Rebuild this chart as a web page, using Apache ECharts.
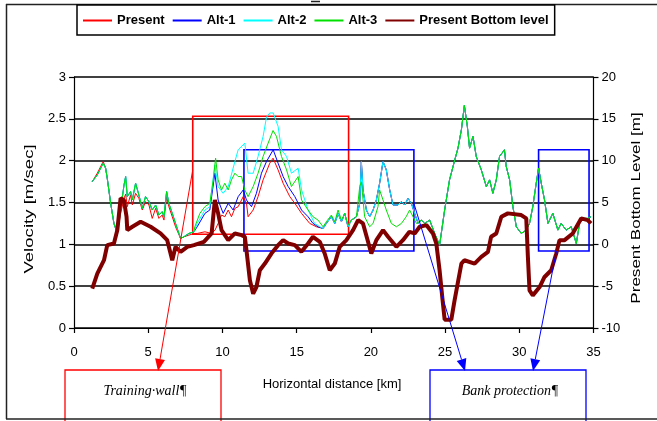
<!DOCTYPE html>
<html>
<head>
<meta charset="utf-8">
<script src="https://cdn.jsdelivr.net/npm/echarts@6/dist/echarts.min.js"></script>
<style>
html,body{margin:0;padding:0;background:#fff;}
#chart{width:657px;height:421px;}
</style>
</head>
<body>
<div id="chart"></div>
<script>
// ---- Data ----
const seriesNames = ['Present', 'Alt-1', 'Alt-2', 'Alt-3', 'Present Bottom level'];
const xTicks = [0, 5, 10, 15, 20, 25, 30, 35];

// Segment A (shared upstream reach), km 1.2 - 8.1
const kmA = [1.23, 1.57, 1.97, 2.13, 2.24, 2.47, 2.69, 2.92, 3.14, 3.37, 3.48, 3.59, 3.81, 3.93, 4.15, 4.37, 4.6, 4.82, 5.05, 5.27, 5.5, 5.72, 5.94, 6.06, 6.24, 6.39, 6.62, 6.84, 7.18, 7.4, 7.74, 8.08];
const velPresentA = [1.75, 1.85, 1.99, 1.91, 1.79, 1.49, 1.25, 1.13, 1.37, 1.55, 1.60, 1.45, 1.59, 1.47, 1.61, 1.55, 1.41, 1.51, 1.47, 1.31, 1.43, 1.31, 1.35, 1.29, 1.57, 1.45, 1.33, 1.21, 1.07, 1.09, 1.11, 1.13];
const velAltA = [1.75, 1.83, 1.97, 1.91, 1.79, 1.49, 1.25, 1.13, 1.41, 1.71, 1.81, 1.57, 1.63, 1.53, 1.73, 1.59, 1.43, 1.57, 1.51, 1.41, 1.47, 1.35, 1.39, 1.33, 1.63, 1.49, 1.37, 1.25, 1.07, 1.09, 1.13, 1.15];

// Segment B (training wall reach), per scenario
const kmPresentB = [8.3, 8.82, 9.27, 9.5, 9.71, 9.94, 10.16, 10.39, 10.61, 10.84, 11.06, 11.4, 11.62, 11.73, 12.07, 12.4, 12.74, 13.19, 13.41, 13.75, 14.09, 14.54, 14.88, 15.33, 15.88, 16.33];
const velPresentB = [1.13, 1.15, 1.13, 1.17, 1.25, 1.35, 1.33, 1.41, 1.33, 1.43, 1.45, 1.57, 1.49, 1.33, 1.41, 1.57, 1.77, 1.97, 2.03, 1.89, 1.73, 1.57, 1.49, 1.37, 1.25, 1.21];
const kmAlt1B = [8.3, 8.82, 9.15, 9.49, 9.71, 10.05, 10.39, 10.72, 11.06, 11.4, 11.62, 11.96, 12.29, 12.63, 12.97, 13.42, 13.75, 14.09, 14.43, 14.88, 15.33, 15.77, 16.1, 16.44];
const velAlt1B = [1.21, 1.37, 1.41, 1.85, 1.53, 1.37, 1.49, 1.41, 1.57, 1.65, 1.53, 1.45, 1.61, 1.85, 1.99, 2.13, 1.97, 1.81, 1.69, 1.57, 1.41, 1.33, 1.25, 1.21];
const kmAlt2B = [8.3, 8.82, 9.15, 9.49, 9.71, 10.05, 10.39, 10.84, 11.06, 11.51, 11.73, 12.07, 12.4, 12.74, 12.97, 13.19, 13.42, 13.75, 13.98, 14.32, 14.65, 15.1, 15.33, 15.77, 16.21, 16.56];
const velAlt2B = [1.25, 1.41, 1.45, 1.95, 1.69, 1.61, 1.69, 1.99, 2.13, 2.21, 1.85, 1.85, 2.05, 2.29, 2.52, 2.57, 2.57, 2.41, 2.13, 2.05, 1.85, 1.91, 1.65, 1.41, 1.25, 1.21];
const kmAlt3B = [8.14, 8.48, 8.82, 9.15, 9.38, 9.54, 9.71, 9.94, 10.16, 10.39, 10.61, 10.84, 11.06, 11.29, 11.51, 11.73, 12.07, 12.4, 12.74, 13.08, 13.41, 13.64, 13.98, 14.32, 14.65, 15.1, 15.33, 15.77, 16.1, 16.44];
const velAlt3B = [1.21, 1.37, 1.45, 1.49, 1.77, 2.03, 1.77, 1.65, 1.73, 1.65, 1.77, 1.85, 1.81, 1.81, 1.65, 1.57, 1.69, 1.85, 2.05, 2.21, 2.36, 2.29, 2.05, 1.89, 1.69, 1.81, 1.53, 1.41, 1.33, 1.29];

// Segment D, km 16.8 - 23.2
const kmD = [16.78, 17.0, 17.34, 17.57, 17.79, 18.02, 18.24, 18.46, 18.69, 19.03, 19.25, 19.36, 19.47, 19.7, 19.92, 20.15, 20.37, 20.59, 20.82, 21.04, 21.27, 21.49, 21.83, 22.06, 22.28, 22.5, 22.73, 22.95, 23.18];
const velD = [1.19, 1.25, 1.33, 1.25, 1.37, 1.27, 1.37, 1.21, 1.29, 1.33, 1.49, 1.99, 1.65, 1.41, 1.33, 1.41, 1.53, 1.73, 1.99, 1.89, 1.65, 1.47, 1.47, 1.51, 1.47, 1.55, 1.49, 1.37, 1.25];
const kmAlt3D = [16.78, 17.0, 17.34, 17.57, 17.79, 18.02, 18.24, 18.46, 18.69, 19.03, 19.14, 19.25, 19.36, 19.58, 19.92, 20.15, 20.48, 20.59, 20.82, 21.04, 21.38, 21.72, 22.06, 22.38, 22.61, 22.84, 23.07];
const velAlt3D = [1.21, 1.27, 1.35, 1.27, 1.41, 1.29, 1.37, 1.23, 1.29, 1.33, 1.33, 1.69, 1.75, 1.33, 1.21, 1.25, 1.45, 1.65, 1.53, 1.41, 1.25, 1.21, 1.25, 1.33, 1.41, 1.33, 1.25];

// Segment C (shared downstream reach), km 23.4 - 34.8
const kmC = [23.4, 23.63, 23.96, 24.3, 24.63, 24.97, 25.3, 25.64, 25.87, 26.1, 26.3, 26.5, 26.65, 26.88, 27.1, 27.44, 27.78, 28.0, 28.22, 28.45, 28.67, 29.0, 29.12, 29.35, 29.57, 29.8, 30.13, 30.47, 30.69, 30.91, 31.14, 31.3, 31.48, 31.7, 31.93, 32.26, 32.6, 32.82, 33.16, 33.5, 33.84, 34.06, 34.28, 34.6, 34.83];
const velC = [1.29, 1.25, 1.29, 1.13, 0.99, 1.41, 1.77, 2.0, 2.15, 2.37, 2.66, 2.41, 2.15, 2.29, 2.05, 1.89, 1.69, 1.77, 1.61, 1.77, 2.05, 2.13, 1.93, 1.77, 1.45, 1.21, 1.13, 1.17, 1.25, 1.45, 1.73, 1.91, 1.73, 1.53, 1.25, 1.37, 1.17, 1.25, 1.17, 1.21, 1.01, 1.25, 1.31, 1.31, 1.33];

// Present bottom level [m] (right axis)
const kmBed = [1.23, 1.57, 2.02, 2.24, 2.69, 2.92, 3.14, 3.36, 3.54, 3.59, 3.93, 4.49, 5.16, 5.83, 6.28, 6.62, 6.84, 7.18, 7.63, 8.08, 8.75, 9.27, 9.49, 9.71, 9.94, 10.39, 10.84, 11.29, 11.51, 11.62, 11.85, 12.07, 12.29, 12.52, 12.86, 13.3, 13.75, 14.09, 14.43, 14.88, 15.32, 15.77, 16.1, 16.56, 16.89, 17.23, 17.57, 17.9, 18.35, 18.8, 19.14, 19.47, 20.03, 20.37, 20.82, 21.16, 21.72, 22.16, 22.6, 22.95, 23.29, 23.74, 24.18, 24.41, 24.63, 24.81, 24.97, 25.42, 25.64, 26.1, 26.3, 26.99, 27.44, 27.89, 28.1, 28.45, 28.79, 29.23, 30.13, 30.47, 30.58, 30.69, 30.91, 31.37, 31.7, 32.15, 32.49, 32.71, 33.05, 33.6, 34.17, 34.6, 34.83];
const bedLevel = [-5.3, -3.5, -1.9, -0.1, 0.1, 1.7, 5.5, 5.3, 3.3, 1.7, 2.1, 2.7, 2.1, 1.3, 0.5, -1.9, -0.3, -0.9, -0.3, -0.1, 0.3, 1.3, 5.3, 3.7, 1.7, 0.5, 1.3, 1.1, 0.9, -0.7, -4.3, -5.9, -5.1, -3.1, -2.3, -1.1, -0.1, 0.5, 0.1, -0.1, -0.9, 0.1, 0.9, 0.3, -1.1, -3.1, -2.3, -0.3, 0.5, 1.7, 2.9, 2.5, -1.1, 0.5, 1.7, 0.9, -0.3, 0.5, 1.5, 1.3, 2.1, 2.3, 1.3, 0.1, -3.1, -6.3, -9.0, -9.0, -6.7, -2.3, -1.9, -2.3, -1.5, -0.9, 0.9, 1.3, 3.3, 3.7, 3.5, 3.1, -1.5, -5.5, -6.1, -5.1, -3.9, -3.1, -1.1, 0.5, 0.5, 1.3, 3.1, 2.9, 2.5];

// Annotation boxes [kmFrom, kmTo, velLow, velHigh]
const trainingWallBox = [8.0, 18.5, 1.12, 2.53];
const bankBox1 = [11.45, 22.9, 0.92, 2.13];
const bankBox2 = [31.3, 34.7, 0.92, 2.13];
const annotationTexts = ['Training·wall¶', 'Bank protection¶'];

// ---- Build ----
function zip(xs, ys) { return xs.map((x, i) => [x, ys[i]]); }
const present = [].concat(zip(kmA, velPresentA), zip(kmPresentB, velPresentB), zip(kmD, velD), zip(kmC, velC));
const alt1 = [].concat(zip(kmA, velAltA), zip(kmAlt1B, velAlt1B), zip(kmD, velD), zip(kmC, velC));
const alt2 = [].concat(zip(kmA, velAltA), zip(kmAlt2B, velAlt2B), zip(kmD, velD), zip(kmC, velC));
const alt3 = [].concat(zip(kmA, velAltA), zip(kmAlt3B, velAlt3B), zip(kmAlt3D, velAlt3D), zip(kmC, velC));
const bed = zip(kmBed, bedLevel);

const FONT = 'Liberation Sans, Arial, sans-serif';
const chart = echarts.init(document.getElementById('chart'), null, {renderer: 'canvas'});

function boxArea(b, color) {
  return [{coord: [b[0], b[3]], itemStyle: {color: 'rgba(0,0,0,0)', borderColor: color, borderWidth: 1.6}},
          {coord: [b[1], b[2]]}];
}

function lineSeries(name, data, color, width, yIdx) {
  return {
    name, type: 'line', data, yAxisIndex: yIdx, symbol: 'none', showSymbol: false,
    lineStyle: {color, width}, itemStyle: {color}, animation: false, silent: true
  };
}

const s0 = lineSeries('Present', present, '#ff0000', 1, 0);
s0.markArea = {
  silent: true, label: {show: false},
  data: [boxArea(trainingWallBox, '#ff0000'), boxArea(bankBox1, '#0000ff'), boxArea(bankBox2, '#0000ff')]
};

const option = {
  animation: false,
  backgroundColor: '#fff',
  grid: {left: 74, right: 63.5, top: 77, bottom: 93, containLabel: false},
  legend: {
    data: seriesNames,
    left: 77, top: 5,
    padding: [9, 6, 8, 5],
    itemWidth: 29, itemHeight: 12, itemGap: 7,
    itemStyle: {opacity: 0},
    borderColor: '#000', borderWidth: 1.5, backgroundColor: '#fff',
    textStyle: {fontFamily: FONT, fontWeight: 'bold', fontSize: 13, color: '#000'},
    selectedMode: false
  },
  xAxis: {
    type: 'value', min: 0, max: 35, interval: 5,
    axisLine: {show: true, lineStyle: {color: '#000', width: 1.2}},
    axisTick: {show: true, length: 5, lineStyle: {color: '#000', width: 1.2}},
    axisLabel: {margin: 18, fontFamily: FONT, fontSize: 13, color: '#000',
                formatter: v => xTicks.includes(v) ? String(v) : ''},
    splitLine: {show: false}
  },
  yAxis: [
    {
      type: 'value', min: 0, max: 3, interval: 0.5, position: 'left',
      axisLine: {show: true, lineStyle: {color: '#000', width: 1.2}},
      axisTick: {show: true, length: 5, lineStyle: {color: '#000', width: 1.2}},
      axisLabel: {margin: 8, fontFamily: FONT, fontSize: 13, color: '#000'},
      splitLine: {show: true, lineStyle: {color: '#000', width: 1.5}}
    },
    {
      type: 'value', min: -10, max: 20, interval: 5, position: 'right',
      axisLine: {show: true, lineStyle: {color: '#000', width: 1.2}},
      axisTick: {show: true, length: 5, lineStyle: {color: '#000', width: 1.2}},
      axisLabel: {margin: 8, fontFamily: FONT, fontSize: 13, color: '#000'},
      splitLine: {show: false}
    }
  ],
  series: [
    s0,
    lineSeries('Alt-1', alt1, '#0000ff', 1, 0),
    lineSeries('Alt-2', alt2, '#00ffff', 1, 0),
    lineSeries('Alt-3', alt3, '#00e000', 1, 0),
    lineSeries('Present Bottom level', bed, '#800000', 4, 1)
  ]
};
chart.setOption(option);

// ---- Annotation graphics (arrows, captions, frame) ----
function arrow(start, tip, color) {
  const dx = tip[0] - start[0], dy = tip[1] - start[1];
  const len = Math.sqrt(dx * dx + dy * dy);
  const ux = dx / len, uy = dy / len;
  const L = 12, W = 5;
  const bx = tip[0] - ux * L, by = tip[1] - uy * L;
  const px = -uy, py = ux;
  return [
    {type: 'line', shape: {x1: start[0], y1: start[1], x2: bx, y2: by},
     style: {stroke: color, lineWidth: 1}, z: 10},
    {type: 'polygon', shape: {points: [[tip[0], tip[1]], [bx + px * W, by + py * W], [bx - px * W, by - py * W]]},
     style: {fill: color}, z: 10}
  ];
}
const toPx = p => chart.convertToPixel({gridIndex: 0}, p);
const redStart = toPx([trainingWallBox[0], 1.89]);
const blueStart1 = toPx([bankBox1[1], 1.49]);
const blueStart2 = toPx([32.5, bankBox2[2]]);

const graphics = [
  // outer frame
  {type: 'line', shape: {x1: 6, y1: 4.5, x2: 657, y2: 4.5}, style: {stroke: '#222', lineWidth: 1.5}, z: 1},
  {type: 'line', shape: {x1: 6.5, y1: 4, x2: 6.5, y2: 419}, style: {stroke: '#222', lineWidth: 1.5}, z: 1},
  {type: 'line', shape: {x1: 6, y1: 419, x2: 657, y2: 419}, style: {stroke: '#222', lineWidth: 1.5}, z: 12},
  {type: 'line', shape: {x1: 311, y1: 1.5, x2: 320, y2: 1.5}, style: {stroke: '#222', lineWidth: 1.5}, z: 1},
  // axis titles
  {type: 'text', x: 30, y: 209, rotation: Math.PI / 2, scaleX: 1.55,
   style: {text: 'Velocity [m/sec]', font: '12px ' + FONT, fill: '#000', textAlign: 'center', textVerticalAlign: 'middle'}},
  {type: 'text', x: 637, y: 208, rotation: Math.PI / 2, scaleX: 1.42,
   style: {text: 'Present Bottom Level [m]', font: '12px ' + FONT, fill: '#000', textAlign: 'center', textVerticalAlign: 'middle'}},
  {type: 'text', x: 332, y: 384,
   style: {text: 'Horizontal distance [km]', font: '13px ' + FONT, fill: '#000', textAlign: 'center', textVerticalAlign: 'middle'}},
  // caption boxes
  {type: 'rect', shape: {x: 65, y: 370, width: 156, height: 60}, style: {fill: 'none', stroke: '#ff0000', lineWidth: 1.3}, z: 11},
  {type: 'text', x: 145, y: 391,
   style: {text: annotationTexts[0], font: 'italic 14px Liberation Serif, Times New Roman, serif', fill: '#000', textAlign: 'center', textVerticalAlign: 'middle'}},
  {type: 'rect', shape: {x: 430, y: 370, width: 156, height: 60}, style: {fill: 'none', stroke: '#0000ff', lineWidth: 1.3}, z: 11},
  {type: 'text', x: 510, y: 391,
   style: {text: annotationTexts[1], font: 'italic 14px Liberation Serif, Times New Roman, serif', fill: '#000', textAlign: 'center', textVerticalAlign: 'middle'}}
].concat(
  arrow(redStart, [158, 371], '#ff0000'),
  arrow(blueStart1, [465, 371], '#0000ff'),
  arrow(blueStart2, [533, 371], '#0000ff')
);
chart.setOption({graphic: graphics});
</script>
</body>
</html>
